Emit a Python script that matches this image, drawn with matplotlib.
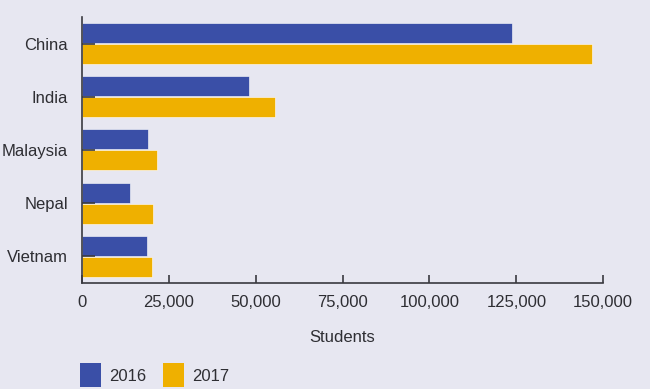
import matplotlib
matplotlib.use("Agg")
import matplotlib.pyplot as plt
import numpy as np
from matplotlib.patches import Patch

countries = ["China", "India", "Malaysia", "Nepal", "Vietnam"]
students_2016 = [123700, 48000, 19000, 13800, 18700]
students_2017 = [146700, 55500, 21600, 20400, 20100]
xticks = [0, 25000, 50000, 75000, 100000, 125000, 150000]

BG = "#e7e7f1"
BLUE = "#3a4fa7"
GOLD = "#efb000"
TXT = "#2e2e33"

plt.rcParams["font.family"] = ["Liberation Sans", "DejaVu Sans"]

fig = plt.figure(figsize=(6.5, 3.89), dpi=100, facecolor=BG)
ax = fig.add_axes([0.126, 0.2725, 0.802, 0.684])
ax.set_facecolor(BG)

y = np.arange(len(countries))
h = 0.375
ax.barh(y - h / 2 - 0.01, students_2016, height=h, color=BLUE,
        edgecolor="white", linewidth=0.4, label="2016")
ax.barh(y + h / 2 + 0.01, students_2017, height=h, color=GOLD,
        edgecolor="white", linewidth=0.4, label="2017")

ax.set_ylim(4.5, -0.5)
ax.set_xlim(0, 150000)
ax.set_yticks(y)
ax.set_yticklabels(countries)
ax.set_xticks(xticks)
ax.set_xticklabels([f"{v:,}" for v in xticks])

for s in ["top", "right"]:
    ax.spines[s].set_visible(False)
for s in ["left", "bottom"]:
    ax.spines[s].set_color("#3a3a40")
    ax.spines[s].set_linewidth(1.2)

ax.tick_params(axis="y", direction="in", length=9.5, width=1.2, color="#3a3a40",
               labelsize=12, labelcolor=TXT, pad=10)
ax.tick_params(axis="x", direction="in", length=6, width=1.2, color="#3a3a40",
               labelsize=12, labelcolor=TXT, pad=9)
ax.set_xlabel("Students", fontsize=12, color=TXT, labelpad=14)

handles = [Patch(facecolor=BLUE, edgecolor="none", label="2016"),
           Patch(facecolor=GOLD, edgecolor="none", label="2017")]
fig.legend(handles=handles, loc="lower left", bbox_to_anchor=(80 / 650, 2 / 389),
           ncol=2, frameon=False, fontsize=12, labelcolor=TXT,
           borderpad=0, borderaxespad=0,
           handlelength=1.25, handleheight=1.8, handletextpad=0.5,
           columnspacing=1.0)

fig.savefig("out.png", dpi=100, facecolor=BG)
